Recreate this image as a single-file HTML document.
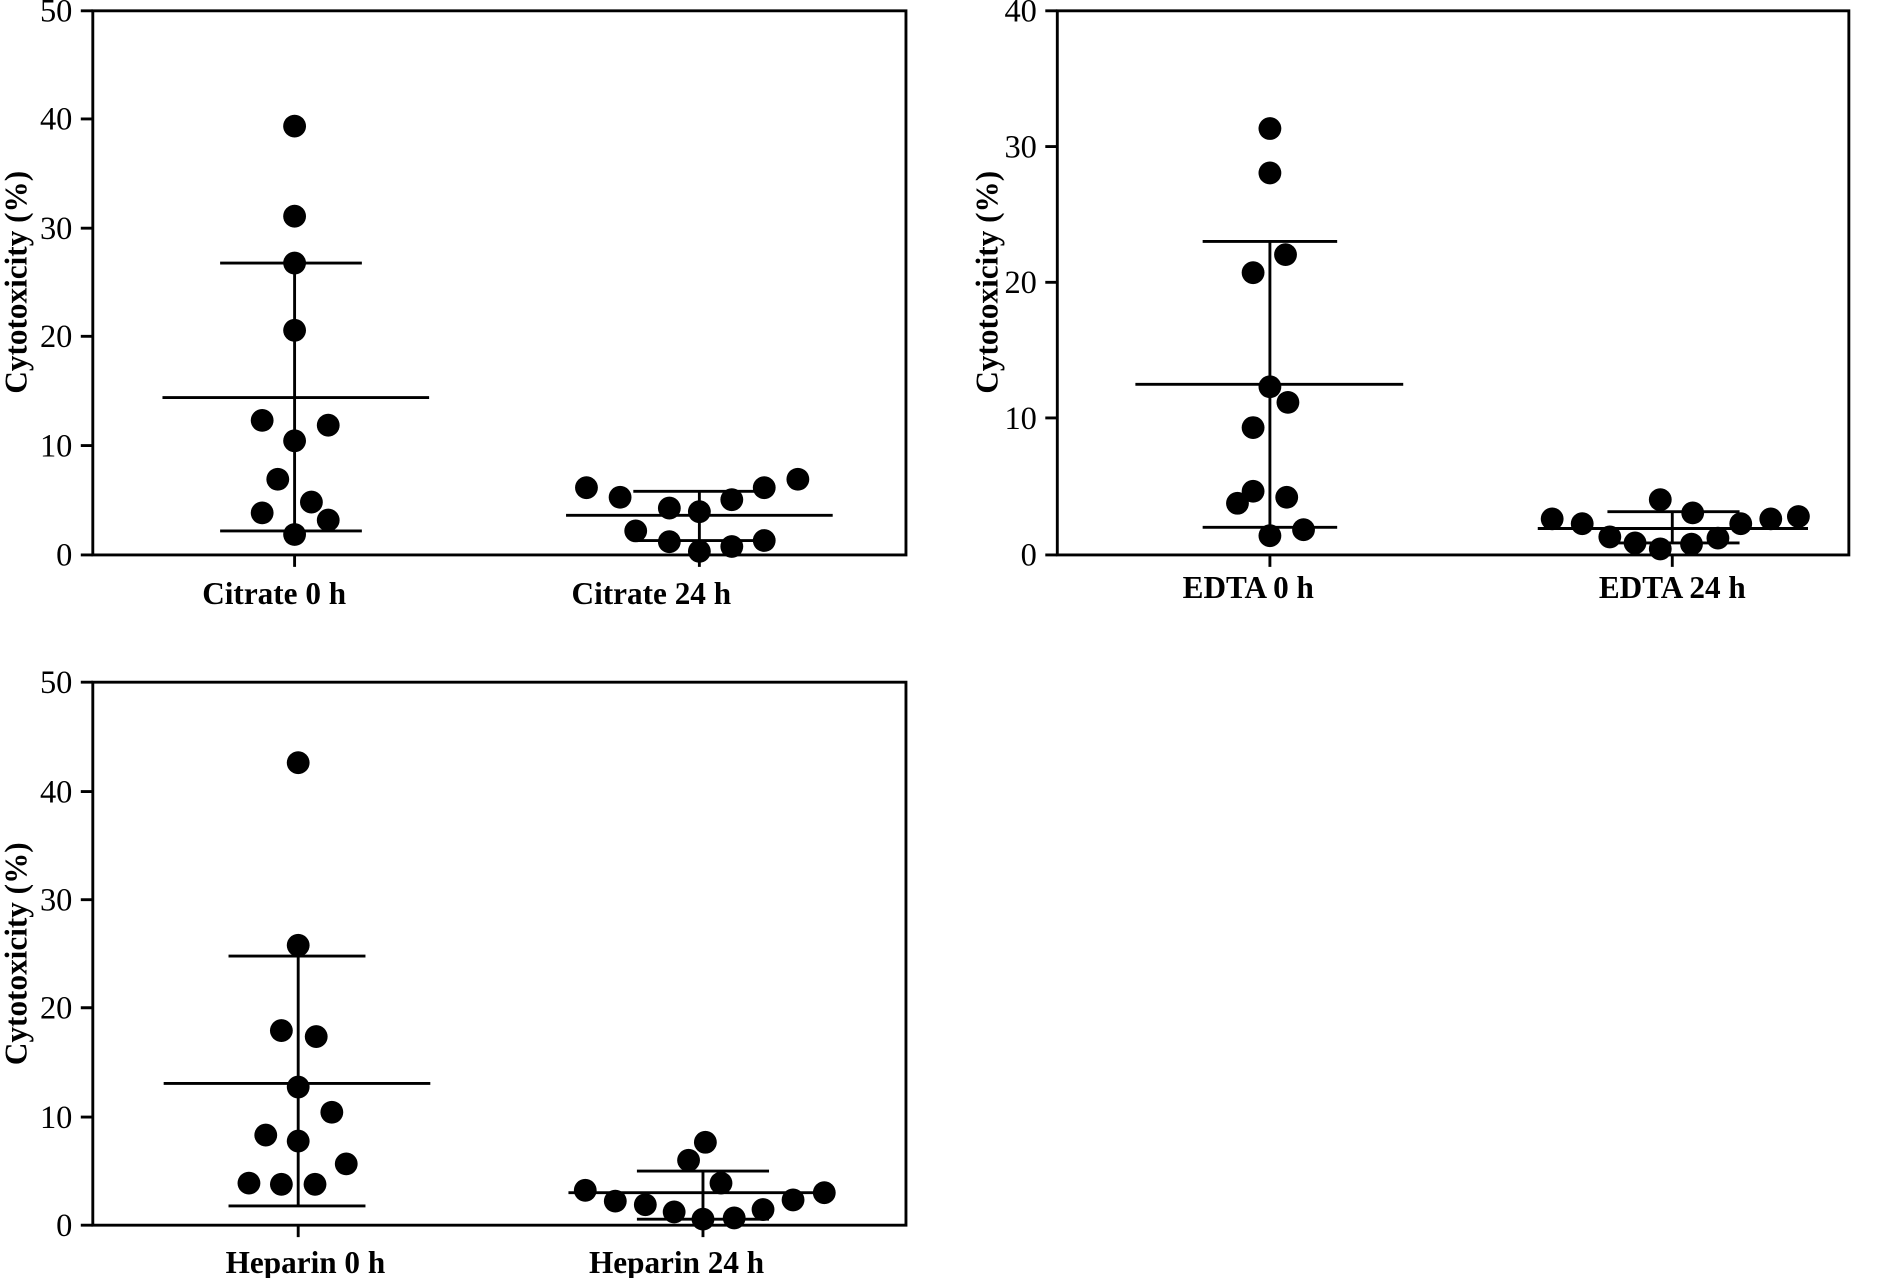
<!DOCTYPE html>
<html><head><style>html,body{margin:0;padding:0;background:#fff}svg{display:block}</style></head>
<body>
<svg width="1884" height="1278" viewBox="0 0 1568 1064" xmlns="http://www.w3.org/2000/svg" font-family="'Liberation Serif', serif">
<g stroke="#000" stroke-width="2.4" fill="none">
<path d="M77 9H754V462H77Z"/>
<path d="M67 9H77M67 99H77M67 190H77M67 280H77M67 371H77M67 462H77M245 462V472M582 462V472"/>
<path d="M245 219V442M183 219H301M183 442H301M135 331H357"/>
<path d="M582 409V450M527 409H637M527 450H637M471 429H693"/>
<path d="M880 9H1539V462H880Z"/>
<path d="M870 9H880M870 122H880M870 235H880M870 348H880M870 462H880M1057 462V472M1392 462V472"/>
<path d="M1057 201V439M1001 201H1113M1001 439H1113M945 320H1168"/>
<path d="M1392 426V452M1338 426H1448M1338 452H1448M1280 440H1505"/>
<path d="M77 568H754V1020H77Z"/>
<path d="M67 568H77M67 659H77M67 749H77M67 839H77M67 930H77M67 1020H77M248 1020V1030M585 1020V1030"/>
<path d="M248 796V1004M190 796H304M190 1004H304M136 902H358"/>
<path d="M585 975V1015M530 975H640M530 1015H640M473 993H695"/>
</g>
<g fill="#000">
<circle cx="245" cy="105" r="9.5"/><circle cx="245" cy="180" r="9.5"/><circle cx="245" cy="219" r="9.5"/><circle cx="245" cy="275" r="9.5"/><circle cx="218" cy="350" r="9.5"/><circle cx="273" cy="354" r="9.5"/><circle cx="245" cy="367" r="9.5"/><circle cx="231" cy="399" r="9.5"/><circle cx="259" cy="418" r="9.5"/><circle cx="218" cy="427" r="9.5"/><circle cx="273" cy="433" r="9.5"/><circle cx="245" cy="445" r="9.5"/>
<circle cx="488" cy="406" r="9.5"/><circle cx="516" cy="414" r="9.5"/><circle cx="557" cy="423" r="9.5"/><circle cx="609" cy="416" r="9.5"/><circle cx="636" cy="406" r="9.5"/><circle cx="664" cy="399" r="9.5"/><circle cx="582" cy="426" r="9.5"/><circle cx="529" cy="442" r="9.5"/><circle cx="557" cy="451" r="9.5"/><circle cx="609" cy="455" r="9.5"/><circle cx="636" cy="450" r="9.5"/><circle cx="582" cy="459" r="9.5"/>
<circle cx="1057" cy="107" r="9.5"/><circle cx="1057" cy="144" r="9.5"/><circle cx="1070" cy="212" r="9.5"/><circle cx="1043" cy="227" r="9.5"/><circle cx="1057" cy="322" r="9.5"/><circle cx="1072" cy="335" r="9.5"/><circle cx="1043" cy="356" r="9.5"/><circle cx="1030" cy="419" r="9.5"/><circle cx="1043" cy="409" r="9.5"/><circle cx="1071" cy="414" r="9.5"/><circle cx="1057" cy="446" r="9.5"/><circle cx="1085" cy="441" r="9.5"/>
<circle cx="1292" cy="432" r="9.5"/><circle cx="1317" cy="436" r="9.5"/><circle cx="1340" cy="447" r="9.5"/><circle cx="1361" cy="452" r="9.5"/><circle cx="1382" cy="457" r="9.5"/><circle cx="1408" cy="453" r="9.5"/><circle cx="1430" cy="448" r="9.5"/><circle cx="1449" cy="436" r="9.5"/><circle cx="1474" cy="432" r="9.5"/><circle cx="1497" cy="430" r="9.5"/><circle cx="1382" cy="416" r="9.5"/><circle cx="1409" cy="427" r="9.5"/>
<circle cx="248" cy="635" r="9.5"/><circle cx="248" cy="787" r="9.5"/><circle cx="234" cy="858" r="9.5"/><circle cx="263" cy="863" r="9.5"/><circle cx="248" cy="905" r="9.5"/><circle cx="276" cy="926" r="9.5"/><circle cx="221" cy="945" r="9.5"/><circle cx="248" cy="950" r="9.5"/><circle cx="288" cy="969" r="9.5"/><circle cx="207" cy="985" r="9.5"/><circle cx="234" cy="986" r="9.5"/><circle cx="262" cy="986" r="9.5"/>
<circle cx="587" cy="951" r="9.5"/><circle cx="573" cy="966" r="9.5"/><circle cx="600" cy="985" r="9.5"/><circle cx="487" cy="991" r="9.5"/><circle cx="512" cy="1000" r="9.5"/><circle cx="537" cy="1003" r="9.5"/><circle cx="561" cy="1009" r="9.5"/><circle cx="585" cy="1015" r="9.5"/><circle cx="611" cy="1014" r="9.5"/><circle cx="635" cy="1007" r="9.5"/><circle cx="660" cy="999" r="9.5"/><circle cx="686" cy="993" r="9.5"/>
</g>
<g font-size="27" text-anchor="end" fill="#000">
<text x="60" y="18">50</text><text x="60" y="108">40</text><text x="60" y="199">30</text><text x="60" y="289">20</text><text x="60" y="380">10</text><text x="60" y="471">0</text>
<text x="863" y="18">40</text><text x="863" y="131">30</text><text x="863" y="244">20</text><text x="863" y="357">10</text><text x="863" y="471">0</text>
<text x="60" y="577">50</text><text x="60" y="668">40</text><text x="60" y="758">30</text><text x="60" y="848">20</text><text x="60" y="939">10</text><text x="60" y="1029">0</text>
</g>
<g font-size="26" font-weight="bold" text-anchor="middle" fill="#000">
<text x="228" y="503">Citrate 0 h</text><text x="542" y="503">Citrate 24 h</text>
<text x="1039" y="498">EDTA 0 h</text><text x="1392" y="498">EDTA 24 h</text>
<text x="254" y="1060">Heparin 0 h</text><text x="563" y="1060">Heparin 24 h</text>
<text transform="translate(22,235) rotate(-90)">Cytotoxicity (%)</text>
<text transform="translate(830,235) rotate(-90)">Cytotoxicity (%)</text>
<text transform="translate(22,794) rotate(-90)">Cytotoxicity (%)</text>
</g>
</svg>
</body></html>
